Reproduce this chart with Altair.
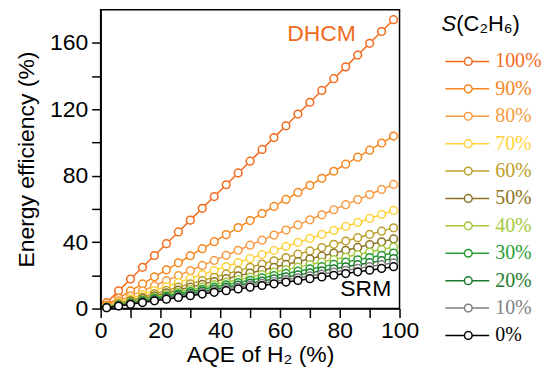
import altair as alt
import pandas as pd

# AQE of H2 (%) sample points
aqe = [2, 6, 10, 14, 18, 22, 26, 30, 34, 38, 42, 46, 50, 54, 58, 62, 66, 70, 74, 78, 82, 86, 90, 94, 98]

labels = ["100%", "90%", "80%", "70%", "60%", "50%", "40%", "30%", "20%", "10%", "0%"]
colors = ["#F26A1E", "#F7861F", "#F99A40", "#FFD23C", "#BCA02A", "#8C7424",
          "#A6C83C", "#2A9E35", "#1C7A2D", "#7F7F7F", "#000000"]

# Energy efficiency (%) per S(C2H6) series
ee_100 = [3.55, 10.65, 17.75, 24.85, 31.95, 39.05, 46.15, 53.25, 60.35, 67.45, 74.55, 81.65, 88.75,
          95.85, 102.95, 110.05, 117.15, 124.25, 131.35, 138.45, 145.55, 152.65, 159.75, 166.85, 173.95]
ee_90 = [2.12, 6.36, 10.60, 14.84, 19.08, 23.32, 27.56, 31.80, 36.04, 40.28, 44.52, 48.76, 53.00,
         57.24, 61.48, 65.72, 69.96, 74.20, 78.44, 82.68, 86.92, 91.16, 95.40, 99.64, 103.88]
ee_80 = [1.53, 4.58, 7.63, 10.68, 13.73, 16.79, 19.84, 22.89, 25.94, 28.99, 32.05, 35.10, 38.15,
         41.20, 44.25, 47.31, 50.36, 53.41, 56.46, 59.51, 62.57, 65.62, 68.67, 71.72, 74.77]
ee_70 = [1.21, 3.62, 6.03, 8.44, 10.85, 13.27, 15.68, 18.09, 20.50, 22.91, 25.33, 27.74, 30.15,
         32.56, 34.97, 37.39, 39.80, 42.21, 44.62, 47.03, 49.45, 51.86, 54.27, 56.68, 59.09]
ee_60 = [0.99, 2.98, 4.96, 6.94, 8.93, 10.91, 12.90, 14.88, 16.86, 18.85, 20.83, 22.82, 24.80,
         26.78, 28.77, 30.75, 32.74, 34.72, 36.70, 38.69, 40.67, 42.66, 44.64, 46.62, 48.61]
ee_50 = [0.86, 2.57, 4.28, 5.99, 7.70, 9.42, 11.13, 12.84, 14.55, 16.26, 17.98, 19.69, 21.40,
         23.11, 24.82, 26.54, 28.25, 29.96, 31.67, 33.38, 35.10, 36.81, 38.52, 40.23, 41.94]
ee_40 = [0.76, 2.27, 3.78, 5.29, 6.80, 8.32, 9.83, 11.34, 12.85, 14.36, 15.88, 17.39, 18.90,
         20.41, 21.92, 23.44, 24.95, 26.46, 27.97, 29.48, 31.00, 32.51, 34.02, 35.53, 37.04]
ee_30 = [0.68, 2.05, 3.41, 4.77, 6.14, 7.50, 8.87, 10.23, 11.59, 12.96, 14.32, 15.69, 17.05,
         18.41, 19.78, 21.14, 22.51, 23.87, 25.23, 26.60, 27.96, 29.33, 30.69, 32.05, 33.42]
ee_20 = [0.61, 1.84, 3.07, 4.30, 5.53, 6.75, 7.98, 9.21, 10.44, 11.67, 12.89, 14.12, 15.35,
         16.58, 17.81, 19.03, 20.26, 21.49, 22.72, 23.95, 25.17, 26.40, 27.63, 28.86, 30.09]
ee_10 = [0.56, 1.69, 2.81, 3.93, 5.06, 6.18, 7.31, 8.43, 9.55, 10.68, 11.80, 12.93, 14.05,
         15.17, 16.30, 17.42, 18.55, 19.67, 20.79, 21.92, 23.04, 24.17, 25.29, 26.41, 27.54]
ee_0 = [0.51, 1.54, 2.57, 3.60, 4.63, 5.65, 6.68, 7.71, 8.74, 9.77, 10.79, 11.82, 12.85,
        13.88, 14.91, 15.93, 16.96, 17.99, 19.02, 20.05, 21.07, 22.10, 23.13, 24.16, 25.19]

series_values = [ee_100, ee_90, ee_80, ee_70, ee_60, ee_50, ee_40, ee_30, ee_20, ee_10, ee_0]

# annotations (position in data units)
annot_text = ["DHCM", "SRM"]
annot_x = [73.9, 88.7]
annot_y = [165.5, 11.8]
annot_color = ["#F26A1E", "#000000"]

rows = []
for lab, vals in zip(labels, series_values):
    for a, v in zip(aqe, vals):
        rows.append({"series": lab, "aqe": a, "ee": v})
df = pd.DataFrame(rows)

FONT = "Liberation Sans"

x_enc = alt.X(
    "aqe:Q",
    scale=alt.Scale(domain=[0, 100], nice=False, zero=False),
    axis=alt.Axis(
        title="AQE of H₂ (%)",
        values=list(range(0, 101, 10)),
        labelExpr="datum.value % 20 === 0 ? datum.label : ''",
        tickSize=9, labelPadding=2, titlePadding=1, titleX=160,
        labelOverlap=False, labelFlush=False,
    ),
)
y_enc = alt.Y(
    "ee:Q",
    scale=alt.Scale(domain=[0, 180], nice=False, zero=False),
    axis=alt.Axis(
        title="Energy efficiency (%)",
        values=list(range(0, 161, 20)),
        labelExpr="datum.value % 40 === 0 ? datum.label : ''",
        tickSize=9, labelPadding=4, titlePadding=11,
        labelOverlap=False, labelFlush=False,
    ),
)

base = alt.Chart(df).encode(x=x_enc, y=y_enc)
layers = []
for lab, col in zip(labels, colors):
    sub = base.transform_filter(alt.datum.series == lab)
    layers.append(sub.mark_line(color=col, strokeWidth=1.5))
    layers.append(sub.mark_point(shape="circle", filled=True, fill="white", stroke=col,
                                 strokeWidth=1.5, size=60, opacity=1, fillOpacity=1))

annot_df = pd.DataFrame({"aqe": annot_x, "ee": annot_y, "t": annot_text, "c": annot_color})
annot = alt.Chart(annot_df).mark_text(font=FONT, fontSize=23, align="center", baseline="middle").encode(
    x=x_enc, y=y_enc, text="t:N", color=alt.Color("c:N", scale=None, legend=None)
)
layers.append(annot)

main = alt.layer(*layers).properties(
    width=300, height=300,
    view=alt.ViewBackground(stroke="black", strokeWidth=1.5),
)

# custom legend
leg_df = pd.DataFrame({"series": labels, "row": list(range(len(labels)))})
leg_y = alt.Y("row:Q", scale=alt.Scale(domain=[-1.891, 10.473], reverse=True, nice=False, zero=False), axis=None)
leg_col_scale = alt.Scale(domain=labels, range=colors)
leg_base = alt.Chart(leg_df).encode(y=leg_y)
leg_line = leg_base.mark_rule(strokeWidth=1.5).encode(
    x=alt.value(9), x2=alt.value(53),
    color=alt.Color("series:N", scale=leg_col_scale, legend=None),
)
leg_pt = leg_base.mark_point(shape="circle", filled=True, fill="white", strokeWidth=1.5, size=60,
                             opacity=1, fillOpacity=1).encode(
    x=alt.value(32),
    stroke=alt.Stroke("series:N", scale=leg_col_scale, legend=None),
)
leg_txt = leg_base.mark_text(font="Liberation Serif", fontSize=20, align="left", baseline="middle").encode(
    x=alt.value(59), text="series:N",
    color=alt.Color("series:N", scale=leg_col_scale, legend=None),
)
title_df = pd.DataFrame({"row": [-1.382]})
leg_title_s = alt.Chart(title_df).mark_text(
    text="S", font=FONT, fontSize=22, fontStyle="italic", align="left", baseline="middle", color="black"
).encode(x=alt.value(5), y=leg_y)
leg_title_rest = alt.Chart(title_df).mark_text(
    text="(C₂H₆)", font=FONT, fontSize=22, align="left", baseline="middle", color="black"
).encode(x=alt.value(20), y=leg_y)

legend = alt.layer(leg_line, leg_pt, leg_txt, leg_title_s, leg_title_rest).properties(
    width=100, height=340,
    view=alt.ViewBackground(strokeOpacity=0),
)

chart = alt.hconcat(main, legend, spacing=17).properties(
    padding={"left": 6, "top": 0, "right": 0, "bottom": 0}
).configure_axis(
    domainColor="black", domainWidth=1.5, tickColor="black", tickWidth=1.5,
    labelFont=FONT, labelFontSize=23, labelColor="black",
    titleFont=FONT, titleFontSize=23, titleFontWeight="normal", titleColor="black",
    grid=False,
)

chart.save("out.html", embed_options={"renderer": "svg", "actions": False})
